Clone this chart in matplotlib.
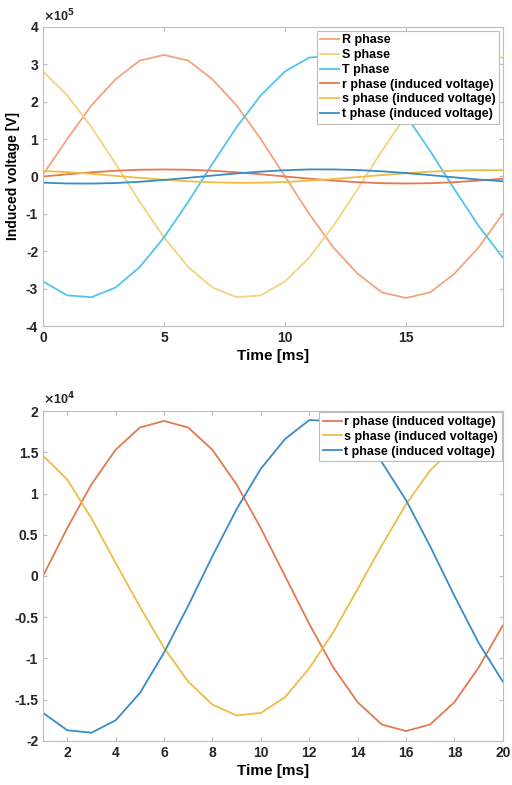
import matplotlib
matplotlib.use("Agg")
import matplotlib.pyplot as plt

plt.rcParams["font.family"] = ["Liberation Sans", "DejaVu Sans"]
plt.rcParams["font.weight"] = "bold"
plt.rcParams["axes.unicode_minus"] = False

# time axes [ms]
t_top = list(range(0, 20))
t_bot = list(range(1, 21))

# supply phases, in units of 1e5 V
R_phase = [0.05, 1.0, 1.9, 2.6, 3.1, 3.25, 3.1, 2.6, 1.9, 1.0,
           0.0, -1.0, -1.9, -2.6, -3.1, -3.25, -3.1, -2.6, -1.9, -1.0]
S_phase = [2.81, 2.17, 1.32, 0.34, -0.68, -1.63, -2.42, -2.97, -3.23, -3.18,
           -2.81, -2.17, -1.32, -0.34, 0.68, 1.63, 2.42, 2.97, 3.23, 3.18]
T_phase = [-2.81, -3.18, -3.23, -2.97, -2.42, -1.63, -0.68, 0.34, 1.32, 2.17,
           2.81, 3.18, 3.23, 2.97, 2.42, 1.63, 0.68, -0.34, -1.32, -2.17]

# induced voltages, in units of 1e4 V
r_ind = [0.0, 0.58, 1.11, 1.53, 1.8, 1.88, 1.8, 1.53, 1.11, 0.58,
         0.0, -0.58, -1.11, -1.53, -1.8, -1.88, -1.8, -1.53, -1.11, -0.6]
s_ind = [1.46, 1.17, 0.7, 0.16, -0.37, -0.87, -1.28, -1.56, -1.69, -1.66,
         -1.47, -1.12, -0.68, -0.16, 0.37, 0.87, 1.28, 1.56, 1.69, 1.66]
t_ind = [-1.66, -1.87, -1.9, -1.75, -1.42, -0.93, -0.36, 0.24, 0.81, 1.3,
         1.66, 1.89, 1.88, 1.72, 1.38, 0.92, 0.36, -0.24, -0.81, -1.28]

col_R, col_S, col_T = "#F1A47E", "#F5D37E", "#52C4EC"
col_r, col_s, col_t = "#E07A50", "#EDBD45", "#3A8CC6"
edge = "#BDBDBD"


def style(ax):
    for sp in ax.spines.values():
        sp.set_color(edge)
        sp.set_linewidth(0.8)
    ax.tick_params(direction="in", top=True, right=True, length=3,
                   color=edge, labelsize=10, labelcolor="#262626")
    for lab in ax.get_xticklabels() + ax.get_yticklabels():
        lab.set_fontweight("bold")


def legend(ax, pad):
    leg = ax.legend(loc="upper right", handlelength=1.5,
                    handletextpad=0.2, labelspacing=0.22, borderaxespad=pad,
                    borderpad=0.3, fancybox=False, framealpha=1,
                    prop={"weight": "bold", "size": 9})
    leg.get_frame().set_edgecolor(edge)
    leg.get_frame().set_linewidth(0.8)


fig = plt.figure(figsize=(5.12, 7.85), dpi=100)

ax1 = fig.add_axes([0.084, 0.5847, 0.898, 0.381])
ax1.plot(t_top, R_phase, color=col_R, lw=1.3, label="R phase")
ax1.plot(t_top, S_phase, color=col_S, lw=1.3, label="S phase")
ax1.plot(t_top, T_phase, color=col_T, lw=1.3, label="T phase")
ax1.plot(t_top, [v / 10 for v in r_ind], color=col_r, lw=1.3,
         label="r phase (induced voltage)")
ax1.plot(t_top, [v / 10 for v in s_ind], color=col_s, lw=1.3,
         label="s phase (induced voltage)")
ax1.plot(t_top, [v / 10 for v in t_ind], color=col_t, lw=1.3,
         label="t phase (induced voltage)")
ax1.set_xlim(0, 19)
ax1.set_ylim(-4, 4)
ax1.set_xticks([0, 5, 10, 15])
ax1.set_yticks(range(-4, 5))
ax1.set_xlabel("Time [ms]", fontsize=11, fontweight="bold", labelpad=3)
ax1.set_ylabel("Induced voltage [V]", fontsize=10, fontweight="bold", labelpad=4)
ax1.text(0.0, 1.01, r"$\times$10$^5$", transform=ax1.transAxes,
         fontsize=9, color="#262626", ha="left", va="bottom")
style(ax1)
legend(ax1, 0.3)

ax2 = fig.add_axes([0.084, 0.0561, 0.898, 0.4203])
ax2.plot(t_bot, r_ind, color=col_r, lw=1.3, label="r phase (induced voltage)")
ax2.plot(t_bot, s_ind, color=col_s, lw=1.3, label="s phase (induced voltage)")
ax2.plot(t_bot, t_ind, color=col_t, lw=1.3, label="t phase (induced voltage)")
ax2.set_xlim(1, 20)
ax2.set_ylim(-2, 2)
ax2.set_xticks(range(2, 21, 2))
yt = [-2, -1.5, -1, -0.5, 0, 0.5, 1, 1.5, 2]
ax2.set_yticks(yt)
ax2.set_yticklabels([f"{v:g}" for v in yt])
ax2.set_xlabel("Time [ms]", fontsize=11, fontweight="bold", labelpad=3)
ax2.text(0.0, 1.01, r"$\times$10$^4$", transform=ax2.transAxes,
         fontsize=9, color="#262626", ha="left", va="bottom")
style(ax2)
legend(ax2, 0.1)

fig.savefig("out.png", dpi=100)
